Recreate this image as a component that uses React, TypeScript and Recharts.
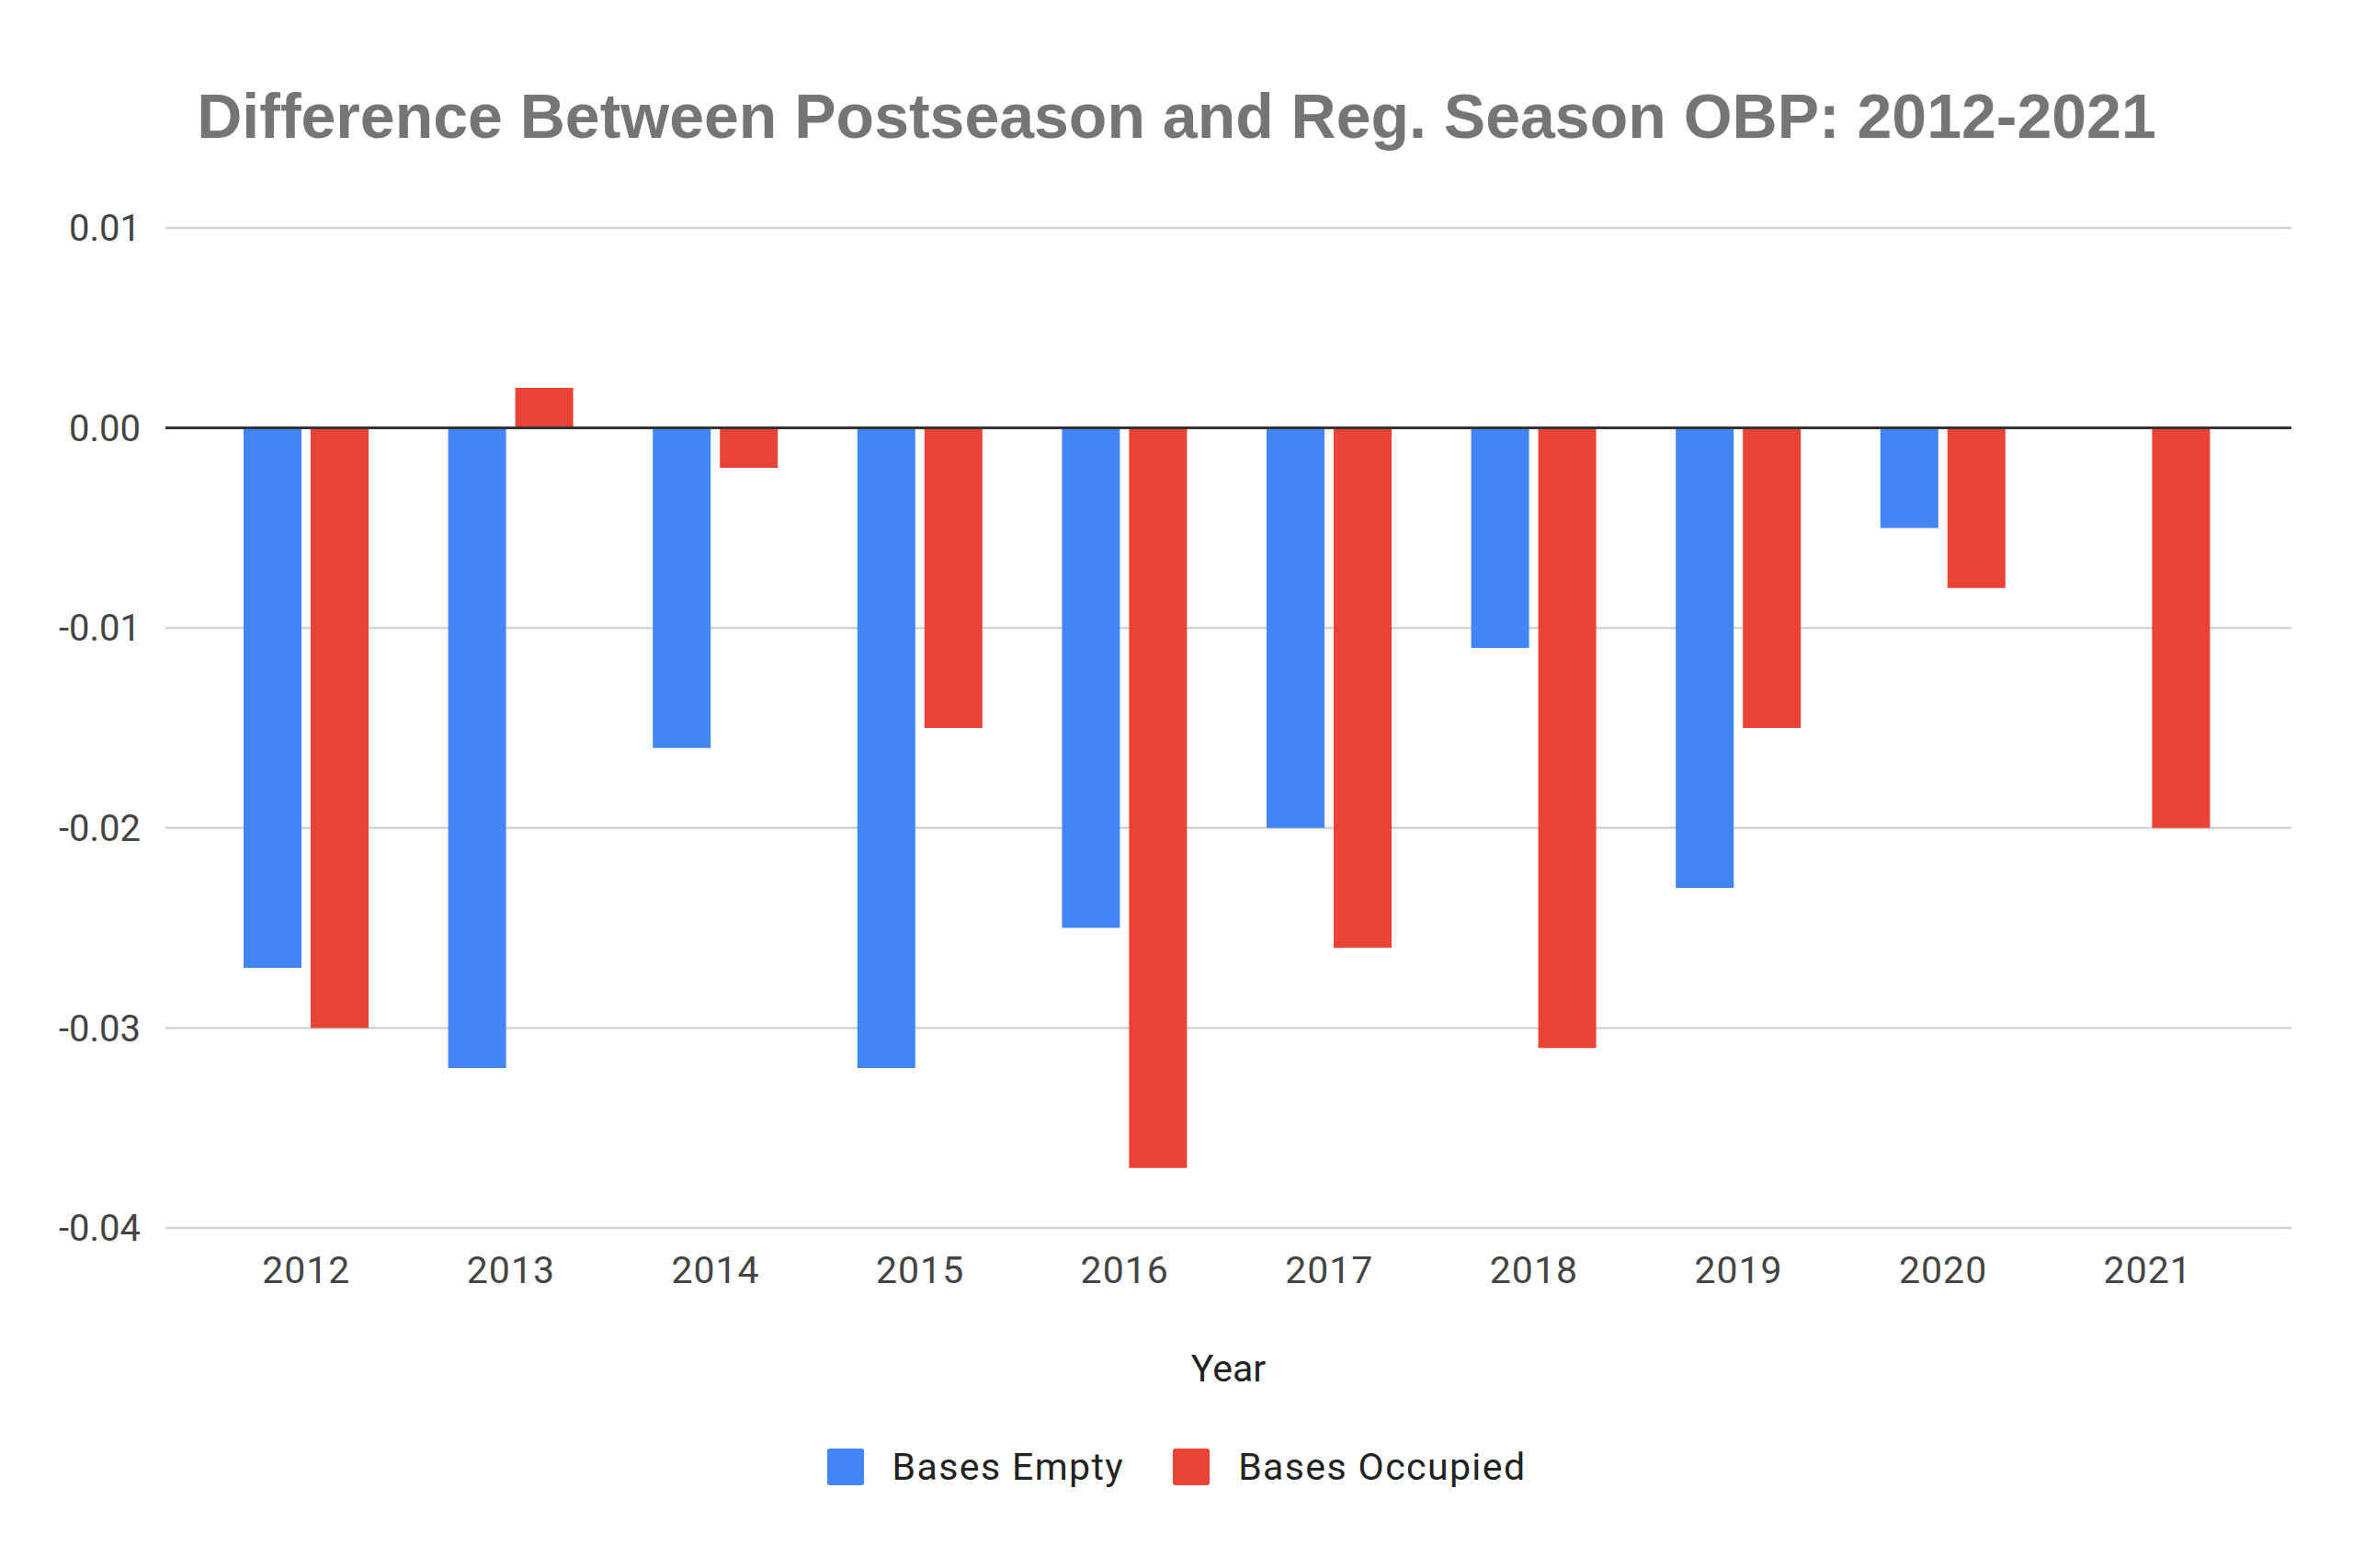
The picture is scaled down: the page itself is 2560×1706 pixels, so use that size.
import { BarChart, Bar, XAxis, YAxis, CartesianGrid, ReferenceLine, Legend } from "recharts";

const YEARS = ["2012", "2013", "2014", "2015", "2016", "2017", "2018", "2019", "2020", "2021"];

// postseason OBP minus regular season OBP
const BASES_EMPTY = [-0.027, -0.032, -0.016, -0.032, -0.025, -0.02, -0.011, -0.023, -0.005, 0];
const BASES_OCCUPIED = [-0.03, 0.002, -0.002, -0.015, -0.037, -0.026, -0.031, -0.015, -0.008, -0.02];

const Y_TICKS = [-0.04, -0.03, -0.02, -0.01, 0, 0.01];

const BLUE = "#4285F4";
const RED = "#EA4335";

const data = YEARS.map((year, i) => ({
    year,
    empty: BASES_EMPTY[i],
    occupied: BASES_OCCUPIED[i],
}));

const SERIES = [
    { key: "empty", name: "Bases Empty", color: BLUE },
    { key: "occupied", name: "Bases Occupied", color: RED },
];

// Legend drawn as plain html, like the sheets chart
const renderLegend = () => (
    <div style={{
        display: "flex",
        justifyContent: "center",
        alignItems: "center",
        gap: 53,
        fontFamily: "Roboto, sans-serif",
        fontSize: 41,
        letterSpacing: 1.4,
        color: "#222",
    }}>
        {SERIES.map((s) => (
            <div key={s.key} style={{ display: "flex", alignItems: "center", gap: 31 }}>
                <div style={{ width: 40, height: 40, borderRadius: 3, backgroundColor: s.color }} />
                <span>{s.name}</span>
            </div>
        ))}
    </div>
);

export default function App() {
    return (
        <div style={{ position: "relative", width: 2560, height: 1706, background: "#fff" }}>
            <style>{`body{margin:0}`}</style>

            {/* Title */}
            <div style={{
                position: "absolute",
                top: 92,
                left: 0,
                width: 2560,
                textAlign: "center",
                fontFamily: "'Liberation Sans', Arial, sans-serif",
                fontWeight: 700,
                fontSize: 68,
                lineHeight: "68px",
                color: "#757575",
                whiteSpace: "nowrap",
            }}>
                Difference Between Postseason and Reg. Season OBP: 2012-2021
            </div>

            <BarChart
                width={2560}
                height={1706}
                data={data}
                margin={{ top: 248, right: 67, bottom: 0, left: 0 }}
                barSize={63}
                barGap={10}
            >
                <CartesianGrid vertical={false} stroke="#d3d3d3" strokeWidth={2.5} />
                <XAxis
                    dataKey="year"
                    height={370}
                    padding={{ left: 42, right: 45 }}
                    axisLine={false}
                    tickLine={false}
                    tickSize={0}
                    tickMargin={31}
                    tick={{ fill: "#444", fontSize: 41, fontFamily: "Roboto, sans-serif", letterSpacing: 1 }}
                    label={{
                        value: "Year",
                        position: "insideTop",
                        offset: 138,
                        fill: "#222",
                        fontSize: 41,
                        fontFamily: "Roboto, sans-serif",
                    }}
                />
                <YAxis
                    width={180}
                    domain={[-0.04, 0.01]}
                    ticks={Y_TICKS}
                    allowDataOverflow
                    axisLine={false}
                    tickLine={false}
                    tickSize={0}
                    tickMargin={27}
                    tickFormatter={(v: number) => v.toFixed(2)}
                    tick={{ fill: "#444", fontSize: 40, fontFamily: "Roboto, sans-serif" }}
                />
                {SERIES.map((s) => (
                    <Bar key={s.key} dataKey={s.key} name={s.name} fill={s.color} isAnimationActive={false} />
                ))}
                <ReferenceLine y={0} stroke="#333" strokeWidth={3} />
                <Legend
                    layout="horizontal"
                    verticalAlign="middle"
                    align="center"
                    content={renderLegend}
                    wrapperStyle={{ position: "absolute", top: 1572, left: 0, width: 2560, height: 40 }}
                />
            </BarChart>
        </div>
    );
}
